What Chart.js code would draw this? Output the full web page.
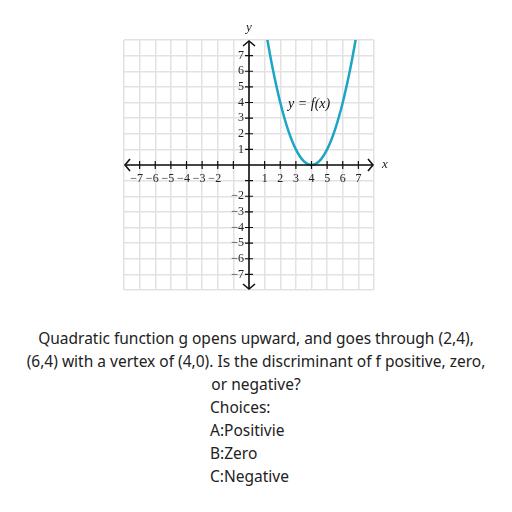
<!DOCTYPE html>
<html>
<head>
<meta charset="utf-8">
<script src="https://cdn.jsdelivr.net/npm/chart.js@4"></script>
<style>
  body { margin: 0; background: #fff; width: 512px; height: 512px; overflow: hidden; }
  #wrap { position: absolute; left: 0; top: 0; width: 512px; height: 310px; }
  .txt { position: absolute; font-family: "Noto Sans", sans-serif; font-size: 15.5px; color: #222; white-space: nowrap; line-height: 23px; }
  .c { left: 0; width: 512px; text-align: center; }
  .l { left: 210px; }
</style>
</head>
<body>
<div id="wrap"><canvas id="graph" width="512" height="310"></canvas></div>
<div class="txt c" style="top:327px">Quadratic function g opens upward, and goes through (2,4),</div>
<div class="txt c" style="top:350px">(6,4) with a vertex of (4,0). Is the discriminant of f positive, zero,</div>
<div class="txt c" style="top:373px">or negative?</div>
<div class="txt l" style="top:396px">Choices:</div>
<div class="txt l" style="top:419px">A:Positivie</div>
<div class="txt l" style="top:442px">B:Zero</div>
<div class="txt l" style="top:465px">C:Negative</div>
<script>
// points
const curveX = [1, 1.5, 2, 2.5, 3, 3.5, 4, 4.5, 5, 5.5, 6, 6.5, 7];
const curveY = [9, 6.25, 4, 2.25, 1, 0.25, 0, 0.25, 1, 2.25, 4, 6.25, 9];
const xTicks = [-7, -6, -5, -4, -3, -2, 1, 2, 3, 4, 5, 6, 7];
const yTicks = [7, 6, 5, 4, 3, 2, 1, -2, -3, -4, -5, -6, -7];
const tickMarks = [-7, -6, -5, -4, -3, -2, -1, 1, 2, 3, 4, 5, 6, 7];
const curveLabel = { x: 3.85, y: 3.9, text: 'y = f(x)' };

const curveColor = '#1ca5c4';

const axesPlugin = {
  id: 'axesPlugin',
  afterDatasetsDraw(chart) {
    const ctx = chart.ctx;
    const xs = chart.scales.x, ys = chart.scales.y;
    const area = chart.chartArea;
    const x0 = xs.getPixelForValue(0), y0 = ys.getPixelForValue(0);
    ctx.save();
    ctx.strokeStyle = '#111';
    ctx.fillStyle = '#111';
    ctx.lineWidth = 1.6;
    // axes
    ctx.beginPath();
    ctx.moveTo(area.left + 1, y0); ctx.lineTo(area.right - 1, y0);
    ctx.moveTo(x0, area.top + 1); ctx.lineTo(x0, area.bottom - 1);
    ctx.stroke();
    // arrow heads
    const a = 6;
    ctx.beginPath();
    ctx.moveTo(area.left + a, y0 - a); ctx.lineTo(area.left + 1, y0); ctx.lineTo(area.left + a, y0 + a);
    ctx.moveTo(area.right - a, y0 - a); ctx.lineTo(area.right - 1, y0); ctx.lineTo(area.right - a, y0 + a);
    ctx.moveTo(x0 - a, area.top + a); ctx.lineTo(x0, area.top + 1); ctx.lineTo(x0 + a, area.top + a);
    ctx.moveTo(x0 - a, area.bottom - a); ctx.lineTo(x0, area.bottom - 1); ctx.lineTo(x0 + a, area.bottom - a);
    ctx.stroke();
    // tick marks
    ctx.lineWidth = 1.2;
    ctx.beginPath();
    tickMarks.forEach(v => {
      const px = xs.getPixelForValue(v), py = ys.getPixelForValue(v);
      ctx.moveTo(px, y0 - 4); ctx.lineTo(px, y0 + 4);
      ctx.moveTo(x0 - 4, py); ctx.lineTo(x0 + 4, py);
    });
    ctx.stroke();
    // tick labels
    ctx.font = '12px "Liberation Serif", serif';
    ctx.fillStyle = '#222';
    ctx.textAlign = 'center';
    ctx.textBaseline = 'middle';
    xTicks.forEach(v => {
      ctx.fillText(String(v).replace('-', '\u2212'), xs.getPixelForValue(v) - (v < 0 ? 3 : 0), y0 + 14);
    });
    ctx.textAlign = 'right';
    yTicks.forEach(v => {
      ctx.fillText(String(v).replace('-', '\u2212'), x0 - 5, ys.getPixelForValue(v));
    });
    // axis names
    ctx.font = 'italic 13px "Liberation Serif", serif';
    ctx.textAlign = 'center';
    ctx.fillText('y', x0, area.top - 12);
    ctx.textAlign = 'left';
    ctx.fillText('x', area.right + 8, y0);
    // curve label
    ctx.font = 'italic 14px "Liberation Serif", serif';
    ctx.textAlign = 'center';
    ctx.fillStyle = '#111';
    ctx.fillText(curveLabel.text, xs.getPixelForValue(curveLabel.x), ys.getPixelForValue(curveLabel.y));
    ctx.restore();
  }
};

new Chart(document.getElementById('graph'), {
  type: 'scatter',
  data: {
    datasets: [{
      data: curveX.map((x, i) => ({ x: x, y: curveY[i] })),
      showLine: true,
      borderColor: curveColor,
      borderWidth: 2.5,
      pointRadius: 0,
      tension: 0.4,
      cubicInterpolationMode: 'monotone'
    }]
  },
  options: {
    responsive: false,
    animation: false,
    layout: { padding: { left: 124, right: 138, top: 40, bottom: 20 } },
    plugins: { legend: { display: false }, tooltip: { enabled: false } },
    scales: {
      x: {
        type: 'linear', min: -8, max: 8,
        ticks: { stepSize: 1, display: false },
        grid: { color: '#e2e2e2', lineWidth: 1.5, drawTicks: false },
        border: { display: false }
      },
      y: {
        type: 'linear', min: -8, max: 8,
        ticks: { stepSize: 1, display: false },
        grid: { color: '#e2e2e2', lineWidth: 1.5, drawTicks: false },
        border: { display: false }
      }
    }
  },
  plugins: [axesPlugin]
});
</script>
</body>
</html>
